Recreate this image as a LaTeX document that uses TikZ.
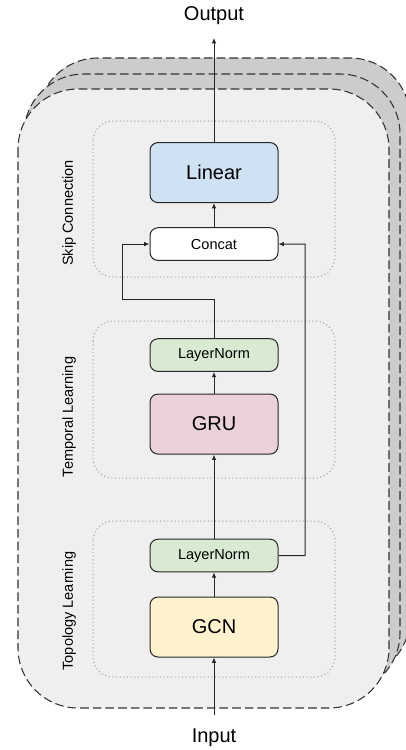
\documentclass[tikz,border=0pt]{standalone}
\usepackage{fontspec}
\setmainfont{Liberation Sans}
\usepackage{xcolor}
\usetikzlibrary{arrows.meta}

\definecolor{backgrey}{HTML}{CCCCCC}
\definecolor{frontgrey}{HTML}{EFEFEF}
\definecolor{linearblue}{HTML}{CFE2F3}
\definecolor{normgreen}{HTML}{D9EAD3}
\definecolor{grupink}{HTML}{EAD1DC}
\definecolor{gcnyellow}{HTML}{FFF2CC}
\definecolor{edgegrey}{HTML}{333333}

\begin{document}
\begin{tikzpicture}[x=0.75pt, y=-0.75pt,
        layer/.style={draw=edgegrey, dash pattern=on 6.5pt off 3pt, rounded corners=45pt, line width=0.8pt},
        group/.style={draw=black!40, dotted, rounded corners=15pt, line width=0.75pt},
        big/.style={draw=black!85, rounded corners=6pt, minimum width=96pt, minimum height=45pt, line width=0.75pt, font=\fontsize{15}{18}\selectfont},
        small/.style={big, minimum height=24.5pt, font=\fontsize{10.9}{13}\selectfont},
        io/.style={outer sep=7pt, font=\fontsize{15}{18}\selectfont},
        grouplabel/.style={rotate=90, font=\fontsize{10.9}{13}\selectfont},
        arr/.style={-{Latex[length=4pt,width=3.5pt]}, draw=black!85, line width=0.75pt}]
        \useasboundingbox (0,0) rectangle (406,750);
        % stacked layers
        \draw[layer, fill=backgrey]  (38,58) rectangle (410,678);
        \draw[layer, fill=backgrey]  (24,74) rectangle (400,693);
        \draw[layer, fill=frontgrey] (18,89) rectangle (389,708);
        % groups
        \draw[group] (93,121) rectangle (335,277);
        \draw[group] (93,321) rectangle (335,478);
        \draw[group] (93,521) rectangle (335,677);
        \node (skip)     [grouplabel] at (69,213) {Skip Connection};
        \node (temporal) [grouplabel] at (69,417) {Temporal Learning};
        \node (topology) [grouplabel] at (69,611) {Topology Learning};
        % blocks
        \node (gcn)    [big, fill=gcnyellow] at (214,627)                   {GCN};
        \node (input)  [io, below of=gcn, node distance=83.25pt]           {Input};
        \node (ln1)    [small, fill=normgreen, above of=gcn, node distance=53.6pt]   {LayerNorm};
        \node (gru)    [big, fill=grupink, above of=ln1, node distance=98.6pt]       {GRU};
        \node (ln2)    [small, fill=normgreen, above of=gru, node distance=51.75pt]  {LayerNorm};
        \node (concat) [small, fill=white, above of=ln2, node distance=83.25pt]      {Concat};
        \node (linear) [big, fill=linearblue, above of=concat, node distance=53.6pt] {Linear};
        \node (output) [io, above of=linear, node distance=118.1pt]        {Output};
        \coordinate (skipl) at (122,299);
        \coordinate (skipr) at (305,244);
        \draw[arr] (input)     -- (gcn);
        \draw[arr] (gcn)       -- (ln1);
        \draw[arr] (ln1)       -- (gru);
        \draw[arr] (gru)       -- (ln2);
        \draw[arr] (ln2.north) |- (skipl) |- (concat.west);
        \draw[arr] (ln1.east)  -| (skipr) -- (concat.east);
        \draw[arr] (concat)    -- (linear);
        \draw[arr] (linear)    -- (output);
    \end{tikzpicture}
\end{document}
